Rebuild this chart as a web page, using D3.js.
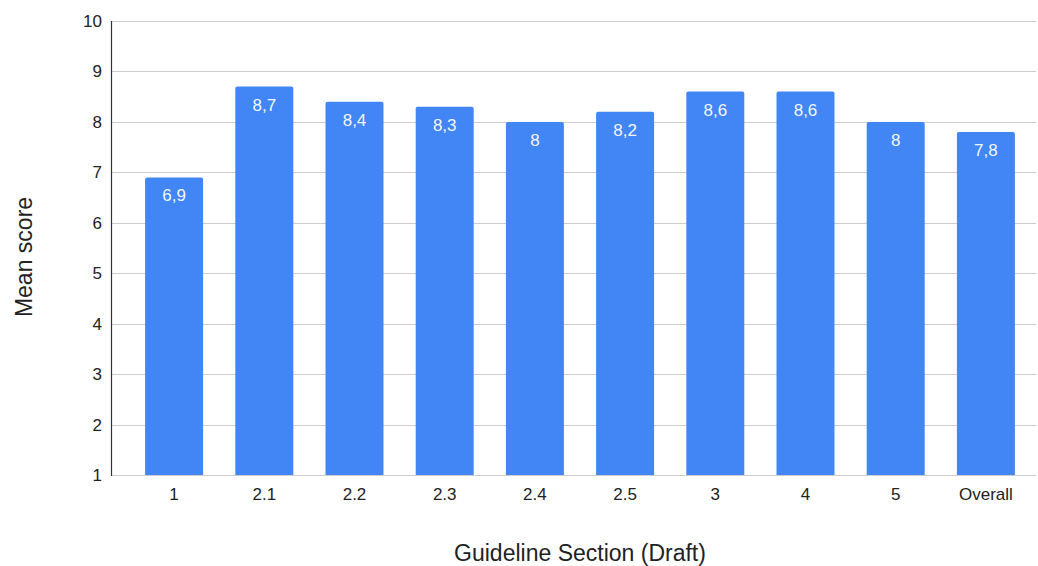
<!DOCTYPE html>
<html><head><meta charset="utf-8">
<script src="https://cdn.jsdelivr.net/npm/d3@7"></script>
<style>body{margin:0;background:#fff}text{font-family:"Liberation Sans",Arial,sans-serif}</style>
</head><body><svg id="c" width="1038" height="566"></svg>
<script>
const categories = ["1","2.1","2.2","2.3","2.4","2.5","3","4","5","Overall"];
const values = [6.9,8.7,8.4,8.3,8,8.2,8.6,8.6,8,7.8];
const yTicks = [1,2,3,4,5,6,7,8,9,10];

(function(){
const FONT = '"Liberation Sans",Arial,sans-serif';
const svg = d3.select("#c");
const pL = 111, pR = 1036, pT = 21, pB = 475;
const x = d3.scaleBand().domain(categories).range([129, 1031]).paddingInner(0.357).paddingOuter(0.1785);
const y = d3.scaleLinear().domain([1,10]).range([pB, pT]);

const g = svg.append("g");
g.selectAll(".grid").data(yTicks).join("line")
  .attr("x1", pL).attr("x2", pR)
  .attr("y1", d => Math.round(y(d)) + 0.5).attr("y2", d => Math.round(y(d)) + 0.5)
  .attr("stroke", "#cccccc").attr("stroke-width", 1);

const r = 2;
g.selectAll(".bar").data(values).join("path")
  .attr("fill", "#4285f4")
  .attr("d", (d, i) => {
    const x0 = x(categories[i]), w = x.bandwidth(), y0 = y(d), y1 = y(1);
    return `M${x0},${y1}V${y0 + r}Q${x0},${y0} ${x0 + r},${y0}H${x0 + w - r}Q${x0 + w},${y0} ${x0 + w},${y0 + r}V${y1}Z`;
  });

g.selectAll(".lbl").data(values).join("text")
  .attr("x", (d, i) => x(categories[i]) + x.bandwidth() / 2)
  .attr("y", d => y(d) + 24)
  .attr("text-anchor", "middle").attr("fill", "#f4f7fe").attr("font-size", 17)
  .style("font-family", FONT)
  .text(d => String(d).replace(".", ","));

const yAxis = d3.axisLeft(y).tickValues(yTicks).tickSize(0).tickPadding(9);
const ya = svg.append("g").attr("transform", `translate(${pL},0)`).call(yAxis);
ya.select(".domain").remove();
ya.selectAll("text").attr("font-size", 17).attr("fill", "#222").style("font-family", FONT);
svg.append("line").attr("x1", pL + 0.5).attr("x2", pL + 0.5).attr("y1", pT).attr("y2", pB + 1)
  .attr("stroke", "#333").attr("stroke-width", 1.2);

const xAxis = d3.axisBottom(x).tickSize(0).tickPadding(13);
const xa = svg.append("g").attr("transform", `translate(0,${pB})`).call(xAxis);
xa.select(".domain").remove();
xa.selectAll("text").attr("font-size", 17).attr("fill", "#222").style("font-family", FONT);

svg.append("text").attr("x", 580).attr("y", 561).attr("text-anchor", "middle")
  .attr("font-size", 23).attr("fill", "#222").style("font-family", FONT).text("Guideline Section (Draft)");
svg.append("text").attr("transform", "translate(32,257) rotate(-90)").attr("text-anchor", "middle")
  .attr("font-size", 23).attr("fill", "#222").style("font-family", FONT).text("Mean score");
})();
</script></body></html>
